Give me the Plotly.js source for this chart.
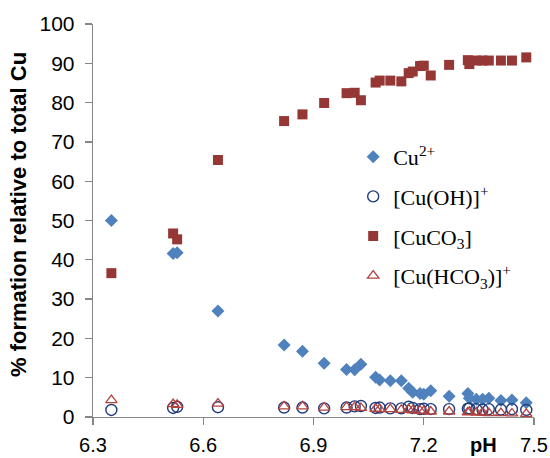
<!DOCTYPE html>
<html>
<head>
<meta charset="utf-8">
<script src="https://cdn.plot.ly/plotly-3.0.1.min.js"></script>
<style>html,body{margin:0;padding:0;background:#fff;}#chart{width:550px;height:458px;}</style>
</head>
<body>
<div id="chart"></div>
<script>
// pH values of the samples
const pH = [6.35, 6.518, 6.529, 6.64, 6.82, 6.87, 6.929, 6.99, 7.012, 7.029, 7.069, 7.08, 7.109, 7.139,
            7.159, 7.17, 7.19, 7.2, 7.219, 7.269, 7.32, 7.324, 7.343, 7.36, 7.377, 7.41, 7.44, 7.479];
// % formation of each species
const cu2 = [50.0, 41.6, 41.8, 27.0, 18.3, 16.7, 13.7, 12.1, 12.0, 13.4, 10.1, 9.4, 9.2, 9.2,
             7.3, 6.3, 6.0, 5.8, 6.7, 5.3, 6.0, 4.8, 4.5, 4.5, 4.8, 4.2, 4.3, 3.6];
const cuOH = [1.8, 2.3, 2.6, 2.5, 2.4, 2.4, 2.2, 2.4, 2.7, 2.8, 2.3, 2.4, 2.2, 2.2,
              2.6, 2.3, 2.0, 2.1, 2.0, 2.0, 2.1, 2.2, 2.0, 1.9, 2.0, 1.9, 2.0, 1.8];
const cuCO3 = [36.6, 46.7, 45.2, 65.4, 75.3, 77.0, 79.9, 82.4, 82.5, 80.6, 85.1, 85.6, 85.6, 85.4,
               87.5, 87.9, 89.3, 89.4, 86.9, 89.6, 90.8, 89.8, 90.7, 90.7, 90.7, 90.7, 90.7, 91.5];
const cuHCO3 = [4.3, 3.3, 3.1, 3.4, 2.7, 2.7, 2.4, 2.5, 2.5, 2.3, 2.1, 2.0, 2.0, 1.8,
                1.9, 1.7, 1.6, 1.5, 1.4, 1.4, 1.2, 1.3, 1.1, 1.1, 1.0, 1.0, 0.9, 0.8];
const xTicks = [6.3, 6.6, 6.9, 7.2, 7.5];
const xTickText = ['6.3', '6.6', '6.9', '7.2', '7.5'];
const yTicks = [0, 10, 20, 30, 40, 50, 60, 70, 80, 90, 100];

const traces = [
  {x: pH, y: cu2, name: 'Cu<sup>2+</sup>', type: 'scatter', mode: 'markers', legendgroup: 'a',
   marker: {symbol: 'diamond', size: 10, color: '#4F81BD'}},
  {x: pH, y: cuOH, name: '[Cu(OH)]<sup>+</sup>', type: 'scatter', mode: 'markers', legendgroup: 'b',
   marker: {symbol: 'circle-open', size: 11, color: '#213B7A', line: {width: 1.4}}},
  {x: pH, y: cuCO3, name: '[CuCO<sub>3</sub>]', type: 'scatter', mode: 'markers', legendgroup: 'c',
   marker: {symbol: 'square', size: 10, color: '#953735'}},
  {x: pH, y: cuHCO3, name: '[Cu(HCO<sub>3</sub>)]<sup>+</sup>', type: 'scatter', mode: 'markers', legendgroup: 'd',
   marker: {symbol: 'triangle-up-open', size: 10, color: '#B4423F', line: {width: 1.3}}}
];

const layout = {
  width: 550, height: 458,
  margin: {l: 93, r: 16, t: 24, b: 41},
  paper_bgcolor: '#fff', plot_bgcolor: '#fff',
  font: {family: 'Liberation Sans, Arial, sans-serif', size: 20, color: '#000'},
  showlegend: true,
  legend: {x: 0.59, y: 0.715, xanchor: 'left', yanchor: 'top', bgcolor: 'rgba(0,0,0,0)',
           font: {family: 'Liberation Serif, Times New Roman, serif', size: 22, color: '#000'},
           traceorder: 'grouped', tracegroupgap: 8},
  xaxis: {range: [6.3, 7.5], tickvals: xTicks, ticktext: xTickText, showgrid: false, zeroline: false,
          showline: true, linecolor: '#868686', linewidth: 1.3, ticks: 'outside', ticklen: 7,
          tickcolor: '#868686', tickwidth: 1.3, tickfont: {size: 20}, ticklabelstandoff: 3},
  yaxis: {range: [0, 100], tickvals: yTicks, showgrid: false, zeroline: false,
          showline: true, linecolor: '#868686', linewidth: 1.3, ticks: 'outside', ticklen: 7,
          tickcolor: '#868686', tickwidth: 1.3, tickfont: {size: 21}, ticklabelstandoff: 6},
  annotations: [
    {text: '<b>pH</b>', xref: 'paper', yref: 'paper', x: (483 - 93) / 441, y: -0.037,
     xanchor: 'center', yanchor: 'top', showarrow: false, font: {size: 20}},
    {text: '<b>% formation relative to total Cu</b>', xref: 'paper', yref: 'paper',
     x: (19 - 93) / 441, y: (417 - 215) / 393, xanchor: 'center', yanchor: 'middle',
     textangle: -90, showarrow: false, font: {size: 22}}
  ]
};

Plotly.newPlot('chart', traces, layout, {displayModeBar: false, staticPlot: true});
</script>
</body>
</html>
